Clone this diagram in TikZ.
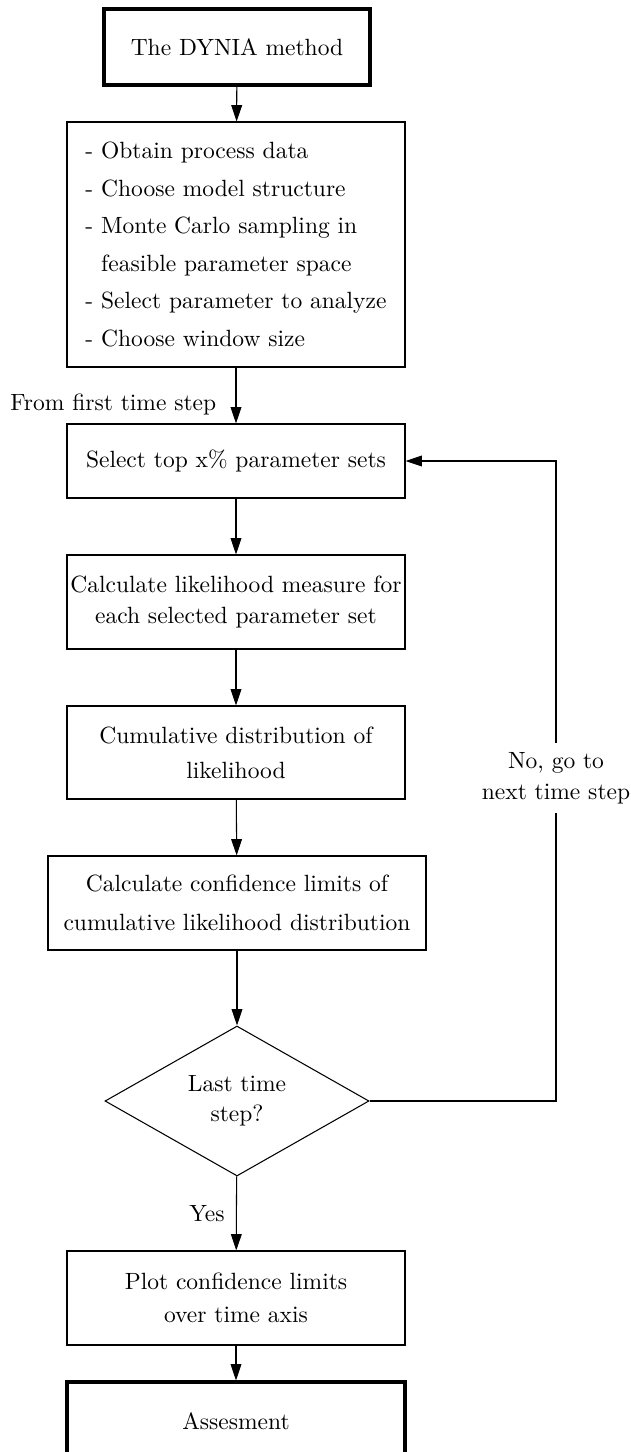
\documentclass[tikz,border=0pt]{standalone}
\usetikzlibrary{arrows.meta,shapes.geometric}
\begin{document}
\def\pxu{0.4255pt}
\begin{tikzpicture}[x=0.4255pt,y=-0.4255pt,
  box/.style={draw,line width=0.45pt,inner sep=0pt,minimum width=338*\pxu,minimum height=94*\pxu,align=center,font=\fontsize{10}{14}\selectfont},
  thickbox/.style={box,line width=1.3pt},
  decision/.style={draw,line width=0.45pt,diamond,inner sep=0pt,aspect=1.76,minimum width=264*\pxu,minimum height=150*\pxu,align=center,font=\fontsize{10}{12.8}\selectfont},
  lab/.style={inner sep=1pt,align=center,font=\fontsize{10}{13.2}\selectfont},
  flow/.style={line width=0.45pt,-{Triangle[length=7pt,width=4.6pt]}}]
\useasboundingbox (0,0) rectangle (630,1452);
\node[thickbox,minimum width=266*\pxu,minimum height=76*\pxu] (start) at (237,47) {The DYNIA method};
\node[box,align=left,minimum height=245*\pxu,font=\fontsize{10}{16}\selectfont] (prep) at (236,244.5)
 {- Obtain process data\\- Choose model structure\\- Monte Carlo sampling in\\\hphantom{-\ }feasible parameter space\\- Select parameter to analyze\\- Choose window size};
\node[box,minimum height=74*\pxu] (select) at (236,461) {Select top x\% parameter sets};
\node[box,font=\fontsize{10}{13.5}\selectfont] (calc) at (236,602) {Calculate likelihood measure for\\each selected parameter set};
\node[box,minimum height=93*\pxu,font=\fontsize{10}{14.8}\selectfont] (cum) at (236,752.5) {Cumulative distribution of\\likelihood};
\node[box,minimum width=378*\pxu,font=\fontsize{10}{16.6}\selectfont] (conf) at (237,903) {Calculate confidence limits of\\cumulative likelihood distribution};
\node[decision] (last) at (237,1101) {Last time\\step?};
\node[box,font=\fontsize{10}{13.9}\selectfont] (plot) at (236,1298) {Plot confidence limits\\over time axis};
\node[thickbox,minimum height=78*\pxu] (assess) at (236,1421) {Assesment};
\coordinate (loopc) at (556,1101);
\node[lab,anchor=east] (first) at (219,404) {From first time step};
\node[lab] (yes) at (207,1214) {Yes};
\draw[flow] (start) -- (prep);
\draw[flow] (prep) -- (select);
\draw[flow] (select) -- (calc);
\draw[flow] (calc) -- (cum);
\draw[flow] (cum) -- (conf);
\draw[flow] (conf) -- (last);
\draw[flow] (last) -- (plot);
\draw[flow] (plot) -- (assess);
\draw[flow] (last.east) -- (loopc) |- (select.east);
\node[lab,fill=white,inner ysep=4pt] (no) at (556,778) {No, go to\\next time step};
\end{tikzpicture}
\end{document}
